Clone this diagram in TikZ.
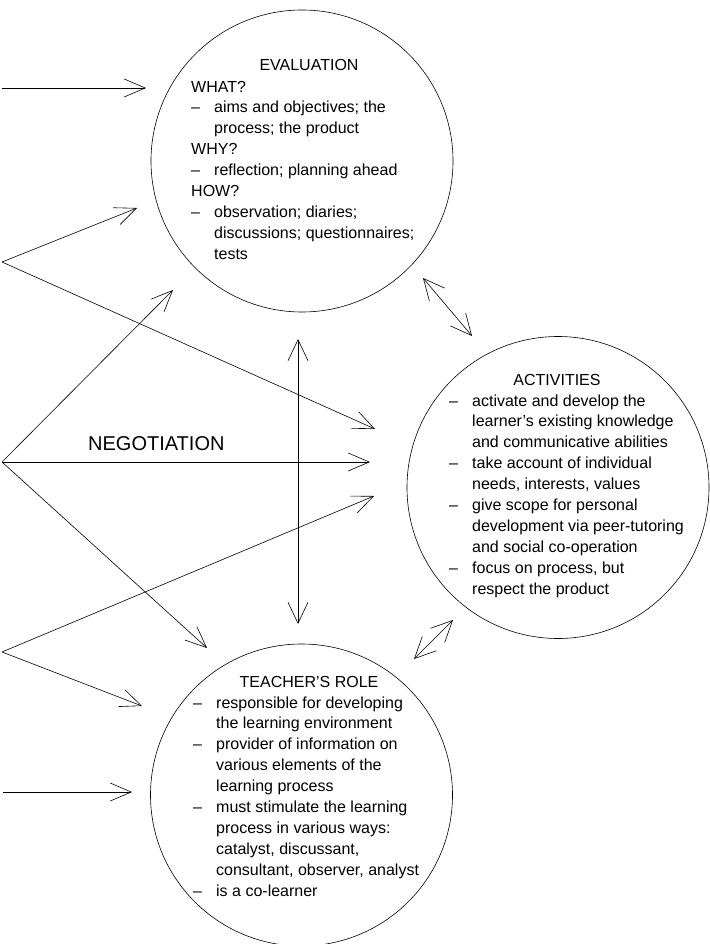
\documentclass[tikz,border=0pt]{standalone}
\usepackage{fontspec}
\setmainfont{Liberation Sans}
\usetikzlibrary{arrows.meta}
\newcommand\itemdash{\makebox[23pt][l]{–}}
\newcommand\itemind{\hspace*{23pt}}
\begin{document}
\begin{tikzpicture}[x=1pt,y=-1pt,
  ring/.style={circle,draw,line width=0.6pt,minimum size=302pt,inner sep=0pt},
  body/.style={font=\fontsize{16}{20.9}\selectfont,align=left,anchor=base west,inner sep=0pt},
  heading/.style={font=\fontsize{16}{20.9}\selectfont,anchor=base,inner sep=0pt},
  link/.style={line width=0.6pt,-{Straight Barb[length=21pt,width=18pt]}},
  twoway/.style={line width=0.6pt,{Straight Barb[length=21pt,width=20pt]}-{Straight Barb[length=21pt,width=20pt]}}
]
\useasboundingbox (0,0) rectangle (709,944);

% circles
\node[ring] (eval) at (302,161) {};
\node[ring] (act) at (558,487.5) {};
\node[ring] (teach) at (301.5,795) {};

% texts (body nodes are anchored at the baseline of their last line)
\node[heading] (evaltitle) at (309,71) {EVALUATION};
\node[body] (evaltext) at (191,259.2) {WHAT?\\
\itemdash aims and objectives; the\\
\itemind process; the product\\
WHY?\\
\itemdash reflection; planning ahead\\
HOW?\\
\itemdash observation; diaries;\\
\itemind discussions; questionnaires;\\
\itemind tests};

\node[heading] (acttitle) at (557,385) {ACTIVITIES};
\node[body] (acttext) at (449,594.1) {\itemdash activate and develop the\\
\itemind learner’s existing knowledge\\
\itemind and communicative abilities\\
\itemdash take account of individual\\
\itemind needs, interests, values\\
\itemdash give scope for personal\\
\itemind development via peer-tutoring\\
\itemind and social co-operation\\
\itemdash focus on process, but\\
\itemind respect the product};

\node[heading] (teachtitle) at (309,687) {TEACHER’S ROLE};
\node[body] (teachtext) at (193,896.1) {\itemdash responsible for developing\\
\itemind the learning environment\\
\itemdash provider of information on\\
\itemind various elements of the\\
\itemind learning process\\
\itemdash must stimulate the learning\\
\itemind process in various ways:\\
\itemind catalyst, discussant,\\
\itemind consultant, observer, analyst\\
\itemdash is a co-learner};

\node[font=\fontsize{20}{24}\selectfont,anchor=base west,inner sep=0pt] (neglabel) at (88,450) {NEGOTIATION};

% coordinates
\coordinate (srcA) at (2,88);
\coordinate (tipA) at (146,88);
\coordinate (srcB) at (2,262);
\coordinate (tipB1) at (137,208);
\coordinate (tipB2) at (375,429);
\coordinate (srcC) at (2,462);
\coordinate (tipC1) at (173,290);
\coordinate (tipC2) at (370,462);
\coordinate (tipC3) at (207,648);
\coordinate (srcD) at (2,652);
\coordinate (tipD1) at (374,496);
\coordinate (tipD2) at (142,706);
\coordinate (srcE) at (3,792);
\coordinate (tipE) at (132,792);
\coordinate (vtop) at (298,339);
\coordinate (vbot) at (298,624);
\coordinate (eaTop) at (423,278);
\coordinate (eaBot) at (472,336);
\coordinate (atTop) at (453,620);
\coordinate (atBot) at (414,659);

% arrows
\draw[link] (srcA) -- (tipA);
\draw[link] (srcB) -- (tipB1);
\draw[link] (srcB) -- (tipB2);
\draw[link] (srcC) -- (tipC1);
\draw[link] (srcC) -- (tipC2);
\draw[link] (srcC) -- (tipC3);
\draw[link] (srcD) -- (tipD1);
\draw[link] (srcD) -- (tipD2);
\draw[link] (srcE) -- (tipE);
\draw[twoway] (vtop) -- (vbot);
\draw[twoway] (eaTop) -- (eaBot);
\draw[twoway] (atTop) -- (atBot);
\end{tikzpicture}
\end{document}
